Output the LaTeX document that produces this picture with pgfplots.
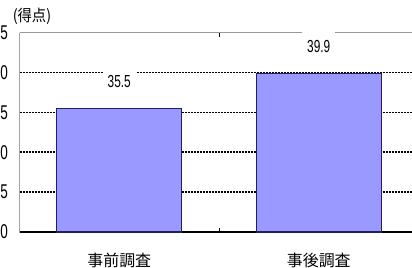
\documentclass[border=0pt]{standalone}
\usepackage{pgfplots}
\pgfplotsset{compat=1.18}
\usepackage{fontspec}
\setmainfont{Liberation Sans}
\newfontfamily\narrow[FakeStretch=0.68]{Liberation Sans}
\newfontfamily\jp{Noto Sans CJK JP}
\newfontfamily\jpn[FakeStretch=0.9]{Noto Sans CJK JP}
\definecolor{barfill}{HTML}{9999FF}
\definecolor{baredge}{HTML}{202060}
\begin{document}
\begin{tikzpicture}[x=1bp,y=1bp]
\useasboundingbox (-19.5,-36) rectangle (392.5,232);
\clip (-19.5,-36) rectangle (392.5,232);
\begin{axis}[
  at={(0,0)}, anchor=south west,
  scale only axis, width=399bp, height=199.5bp,
  xmin=0.5, xmax=2.5, ymin=20, ymax=45,
  ybar, bar width=124.7bp,
  axis line style={draw=none},
  xtick={1,2}, xticklabels={事前調査,事後調査},
  major tick length=0pt,
  extra x ticks={1.5}, extra x tick labels={},
  extra x tick style={major tick length=4bp, tick align=inside, tick style={black, line width=1bp}},
  ytick={25,30,35,40}, ymajorgrids,
  extra y ticks={20,45}, extra y tick style={grid=none},
  major grid style={draw=black, line width=1.5bp, dash pattern=on 2bp off 1bp},
  /pgf/number format/assume math mode=true,
  yticklabel style={font=\narrow\fontsize{20}{20}\selectfont, inner sep=0pt, anchor=east, xshift=-11.5bp},
  xticklabel style={font=\jp\fontsize{16}{16}\selectfont, inner sep=0pt, anchor=north, yshift=-21bp},
  nodes near coords,
  every node near coord/.append style={font=\narrow\fontsize{17.5}{17.5}\selectfont, fill=white, anchor=center, yshift=27bp, inner xsep=5bp, inner ysep=10bp,
    /pgf/number format/fixed, /pgf/number format/precision=1, /pgf/number format/fixed zerofill},
]
\draw[black!40, line width=1.8bp] (rel axis cs:0,1) -- (rel axis cs:1,1);
\draw[black, line width=1.5bp] (rel axis cs:0,1) -- (rel axis cs:0,0) -- (rel axis cs:1,0);
\addplot[fill=barfill, draw=baredge, line width=1.1bp] coordinates {(1,35.5) (2,39.9)};
\end{axis}
\node[font=\jpn\fontsize{16}{16}\selectfont] at (12.5,216) {(得点)};
\end{tikzpicture}
\end{document}
